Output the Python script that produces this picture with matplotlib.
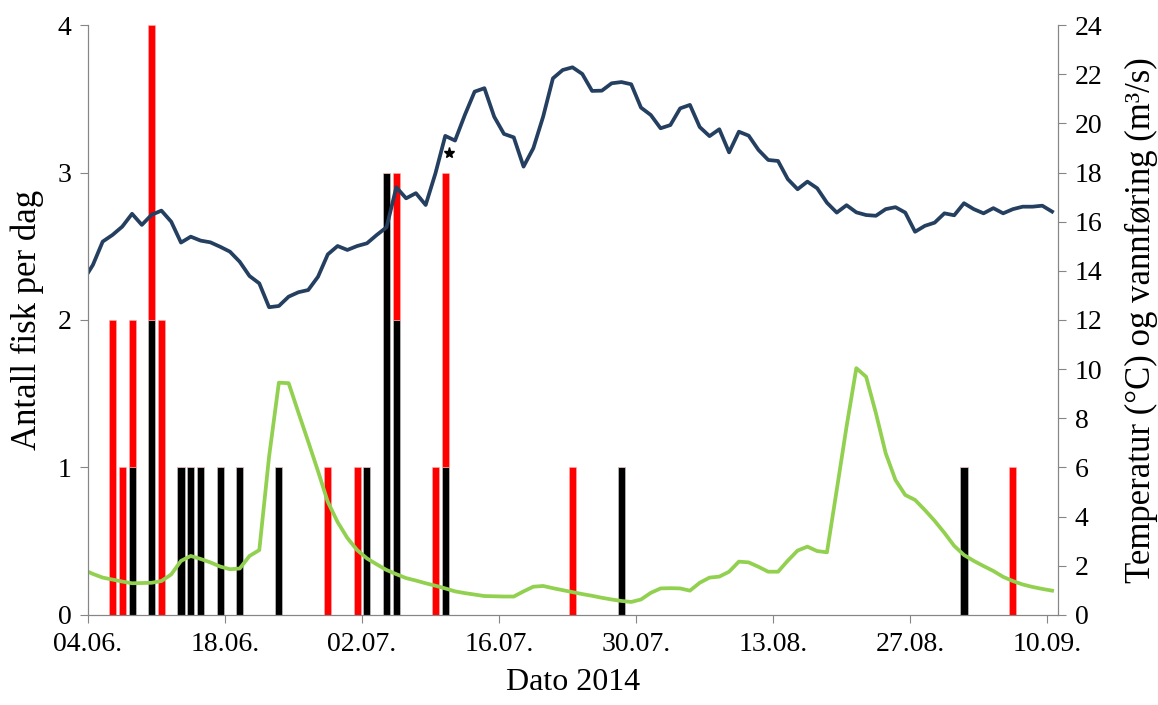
import numpy as np
import pandas as pd
import matplotlib
matplotlib.use('Agg')
import matplotlib.pyplot as plt
import matplotlib.dates as mdates

plt.rcParams['font.family'] = ['Liberation Serif', 'DejaVu Serif']

# antall fisk per dag (svart = nederst, rød = oppå)
fish_dates = ['2014-06-06', '2014-06-07', '2014-06-08', '2014-06-10', '2014-06-11',
              '2014-06-13', '2014-06-14', '2014-06-15', '2014-06-17', '2014-06-19',
              '2014-06-23', '2014-06-28', '2014-07-01', '2014-07-02', '2014-07-04',
              '2014-07-05', '2014-07-09', '2014-07-10', '2014-07-23', '2014-07-28',
              '2014-09-01', '2014-09-06']
fish_black = [0, 0, 1, 2, 0, 1, 1, 1, 1, 1, 1, 0, 0, 1, 3, 2, 0, 1, 0, 1, 1, 0]
fish_red = [2, 1, 1, 2, 2, 0, 0, 0, 0, 0, 0, 1, 1, 0, 0, 1, 1, 2, 1, 0, 0, 1]

# daglige verdier 03.06. - 10.09.
line_start = '2014-06-03'
temperature = [13.6, 14.24, 15.19, 15.46, 15.80, 16.32, 15.87, 16.28, 16.45, 16.00,
               15.15, 15.39, 15.23, 15.16, 14.98, 14.78, 14.37, 13.79, 13.49, 12.52,
               12.57, 12.95, 13.13, 13.22, 13.76, 14.67, 15.01, 14.85, 15.01, 15.12,
               15.46, 15.77, 17.40, 16.95, 17.16, 16.68, 17.97, 19.49, 19.30, 20.34,
               21.29, 21.43, 20.27, 19.57, 19.43, 18.24, 18.99, 20.27, 21.83, 22.17,
               22.28, 22.01, 21.32, 21.33, 21.63, 21.68, 21.59, 20.64, 20.34, 19.80,
               19.93, 20.61, 20.75, 19.85, 19.48, 19.76, 18.82, 19.66, 19.50, 18.92,
               18.51, 18.47, 17.73, 17.32, 17.63, 17.36, 16.77, 16.37, 16.67, 16.38,
               16.27, 16.24, 16.51, 16.59, 16.37, 15.59, 15.83, 15.96, 16.34, 16.26,
               16.75, 16.51, 16.34, 16.55, 16.34, 16.51, 16.61, 16.61, 16.65, 16.41]
discharge = [1.85, 1.67, 1.52, 1.44, 1.36, 1.29, 1.30, 1.31, 1.38, 1.65,
             2.20, 2.40, 2.28, 2.14, 1.97, 1.86, 1.89, 2.40, 2.64, 6.44,
             9.45, 9.43, 8.23, 7.05, 5.85, 4.60, 3.78, 3.13, 2.64, 2.30,
             2.06, 1.83, 1.66, 1.50, 1.40, 1.29, 1.19, 1.08, 0.96, 0.89,
             0.83, 0.77, 0.76, 0.75, 0.75, 0.96, 1.15, 1.18, 1.09, 1.01,
             0.93, 0.85, 0.78, 0.70, 0.63, 0.57, 0.53, 0.63, 0.90, 1.08,
             1.09, 1.08, 0.99, 1.31, 1.52, 1.56, 1.76, 2.17, 2.14, 1.96,
             1.76, 1.76, 2.21, 2.62, 2.78, 2.60, 2.55, 5.09, 7.66, 10.04,
             9.69, 8.21, 6.58, 5.49, 4.88, 4.68, 4.27, 3.83, 3.34, 2.81,
             2.44, 2.20, 1.99, 1.79, 1.55, 1.38, 1.24, 1.14, 1.06, 0.99]

star_date = '2014-07-10'
star_value = 3.13

tick_start = '2014-06-04'

grey = '#868686'
blue = '#243F60'
green = '#92D050'

fish_x = mdates.date2num(pd.to_datetime(fish_dates)) + 0.5
line_x = mdates.date2num(pd.date_range(line_start, periods=len(temperature))) + 0.5
tick_x = mdates.date2num(pd.date_range(tick_start, periods=8, freq='14D'))

fig = plt.figure(figsize=(11.58, 7.05), dpi=100)
ax = fig.add_axes([0.076, 0.1277, 0.8376, 0.8368])

ax.bar(fish_x, fish_black, width=0.72, color='black', edgecolor='#d0d0d0', linewidth=0.4)
ax.bar(fish_x, fish_red, width=0.72, bottom=fish_black, color='#FF0000',
       edgecolor='#ffb0b0', linewidth=0.4)
ax.plot(mdates.date2num(pd.Timestamp(star_date)) + 0.9, star_value, marker='*',
        color='black', markersize=8, linestyle='none')

ax.set_ylim(0, 4)
ax.set_yticks([0, 1, 2, 3, 4])
ax.set_xlim(tick_x[0], tick_x[0] + 99.1)
ax.set_xticks(tick_x)
ax.xaxis.set_major_formatter(mdates.DateFormatter('%d.%m.'))
ax.set_ylabel('Antall fisk per dag', fontsize=25, labelpad=10)
ax.set_xlabel('Dato 2014', fontsize=23, labelpad=8)

ax2 = ax.twinx()
ax2.plot(line_x, temperature, color=blue, linewidth=2.7)
ax2.plot(line_x, discharge, color=green, linewidth=2.7)
ax2.set_ylim(0, 24)
ax2.set_yticks(np.arange(0, 25, 2))
ax2.set_ylabel('Temperatur (°C) og vannføring (m³/s)', fontsize=25, labelpad=16)

for a in (ax, ax2):
    for s in a.spines.values():
        s.set_color(grey)
    a.spines['top'].set_visible(False)
    a.tick_params(colors=grey, labelcolor='black', labelsize=20, direction='out',
                  length=6, pad=6)

fig.savefig('out.png', dpi=100)
